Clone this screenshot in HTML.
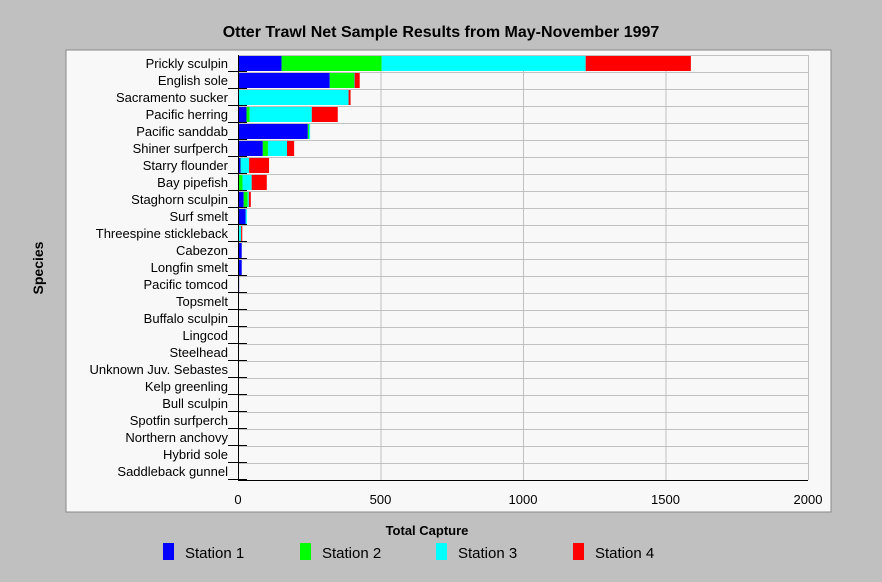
<!DOCTYPE html>
<html><head><meta charset="utf-8"><style>
body{margin:0;background:#c0c0c0;font-family:"Liberation Sans",sans-serif;}
svg{display:block}
</style></head><body>
<svg width="882" height="582" xmlns="http://www.w3.org/2000/svg" id="chart">
<rect x="0" y="0" width="882" height="582" fill="#c0c0c0"/>
<text x="441" y="37" text-anchor="middle" font-size="16" font-weight="bold">Otter Trawl Net Sample Results from May-November 1997</text>
<rect x="66" y="50" width="765" height="462" fill="#f8f8f8" stroke="#888" stroke-width="1"/>
<g id="grid"></g><g id="bars"></g><g id="axes"></g>
<text transform="translate(43,268) rotate(-90)" text-anchor="middle" font-size="14" font-weight="bold">Species</text>
<text x="427" y="535" text-anchor="middle" font-size="13" font-weight="bold">Total Capture</text>
<g id="legend"></g>
</svg>
<script>
const species=["Prickly sculpin","English sole","Sacramento sucker","Pacific herring","Pacific sanddab","Shiner surfperch","Starry flounder","Bay pipefish","Staghorn sculpin","Surf smelt","Threespine stickleback","Cabezon","Longfin smelt","Pacific tomcod","Topsmelt","Buffalo sculpin","Lingcod","Steelhead","Unknown Juv. Sebastes","Kelp greenling","Bull sculpin","Spotfin surfperch","Northern anchovy","Hybrid sole","Saddleback gunnel"];
const station1=[153,322,2,30,245,87,9,2,20,27,0,13,13,4,1,0,0,0,0,0,0,0,0,0,0];
const station2=[351,85,0,11,4,18,1,14,14,0,4,0,0,0,0,0,0,0,0,0,0,0,0,0,0];
const station3=[716,2,386,218,4,67,29,32,4,4,7,0,0,0,0,0,0,0,0,0,0,0,0,0,0];
const station4=[369,18,7,91,0,25,70,53,7,0,4,0,0,0,0,0,0,0,0,0,0,0,0,0,0];
const xTicks=[0,500,1000,1500,2000];
const seriesNames=["Station 1","Station 2","Station 3","Station 4"];
const colors=["#0000ff","#00ff00","#00ffff","#ff0000"];
const NS="http://www.w3.org/2000/svg";
const X0=238,X1=808,Y0=55,RH=17,XMAX=2000;
const xs=v=>X0+v/XMAX*(X1-X0);
const yRow=i=>Y0+i*RH;
function mk(tag,attrs,parent){const e=document.createElementNS(NS,tag);for(const k in attrs)e.setAttribute(k,attrs[k]);parent.appendChild(e);return e;}
const grid=document.getElementById('grid'),bars=document.getElementById('bars'),axes=document.getElementById('axes'),legend=document.getElementById('legend');
for(let i=1;i<=species.length;i++){const l=mk('line',{x1:X0,x2:X1,y1:yRow(i)+0.5,y2:yRow(i)+0.5,stroke:'#c0c0c0'},grid);

}
mk('line',{x1:X0,x2:X1,y1:Y0+0.5,y2:Y0+0.5,stroke:'#c0c0c0'},grid);
xTicks.forEach(t=>{const l=mk('line',{x1:xs(t)+0.5,x2:xs(t)+0.5,y1:Y0,y2:yRow(species.length),stroke:'#c0c0c0'},grid);


const tx=mk('text',{x:xs(t),y:504,'text-anchor':'middle','font-size':13},axes);tx.textContent=t;

});
const series=[station1,station2,station3,station4];
species.forEach((s,i)=>{let acc=0;
series.forEach((arr,k)=>{const v=arr[i];if(v>0){const r=mk('rect',{x:xs(acc),y:yRow(i)+1,width:xs(acc+v)-xs(acc),height:RH-2,fill:colors[k]},bars);

}acc+=v;});
const lb=mk('text',{x:228,y:yRow(i)+13,'text-anchor':'end','font-size':13},axes);lb.textContent=s;


const tk=mk('line',{x1:228,x2:247,y1:yRow(i+1)-0.5,y2:yRow(i+1)-0.5,stroke:'#000'},axes);

});
const ya=mk('line',{x1:X0+0.5,x2:X0+0.5,y1:Y0,y2:yRow(species.length),stroke:'#000'},axes);


const xa=mk('line',{x1:X0,x2:X1,y1:yRow(species.length)+0.5,y2:yRow(species.length)+0.5,stroke:'#000'},axes);


const lx=[163,300,436,573];
seriesNames.forEach((n,k)=>{const g=mk('g',{},legend);


mk('rect',{x:lx[k],y:543,width:11,height:17,fill:colors[k]},g);
const t=mk('text',{x:lx[k]+22,y:558,'font-size':15},g);t.textContent=n;});
</script>
</body></html>
